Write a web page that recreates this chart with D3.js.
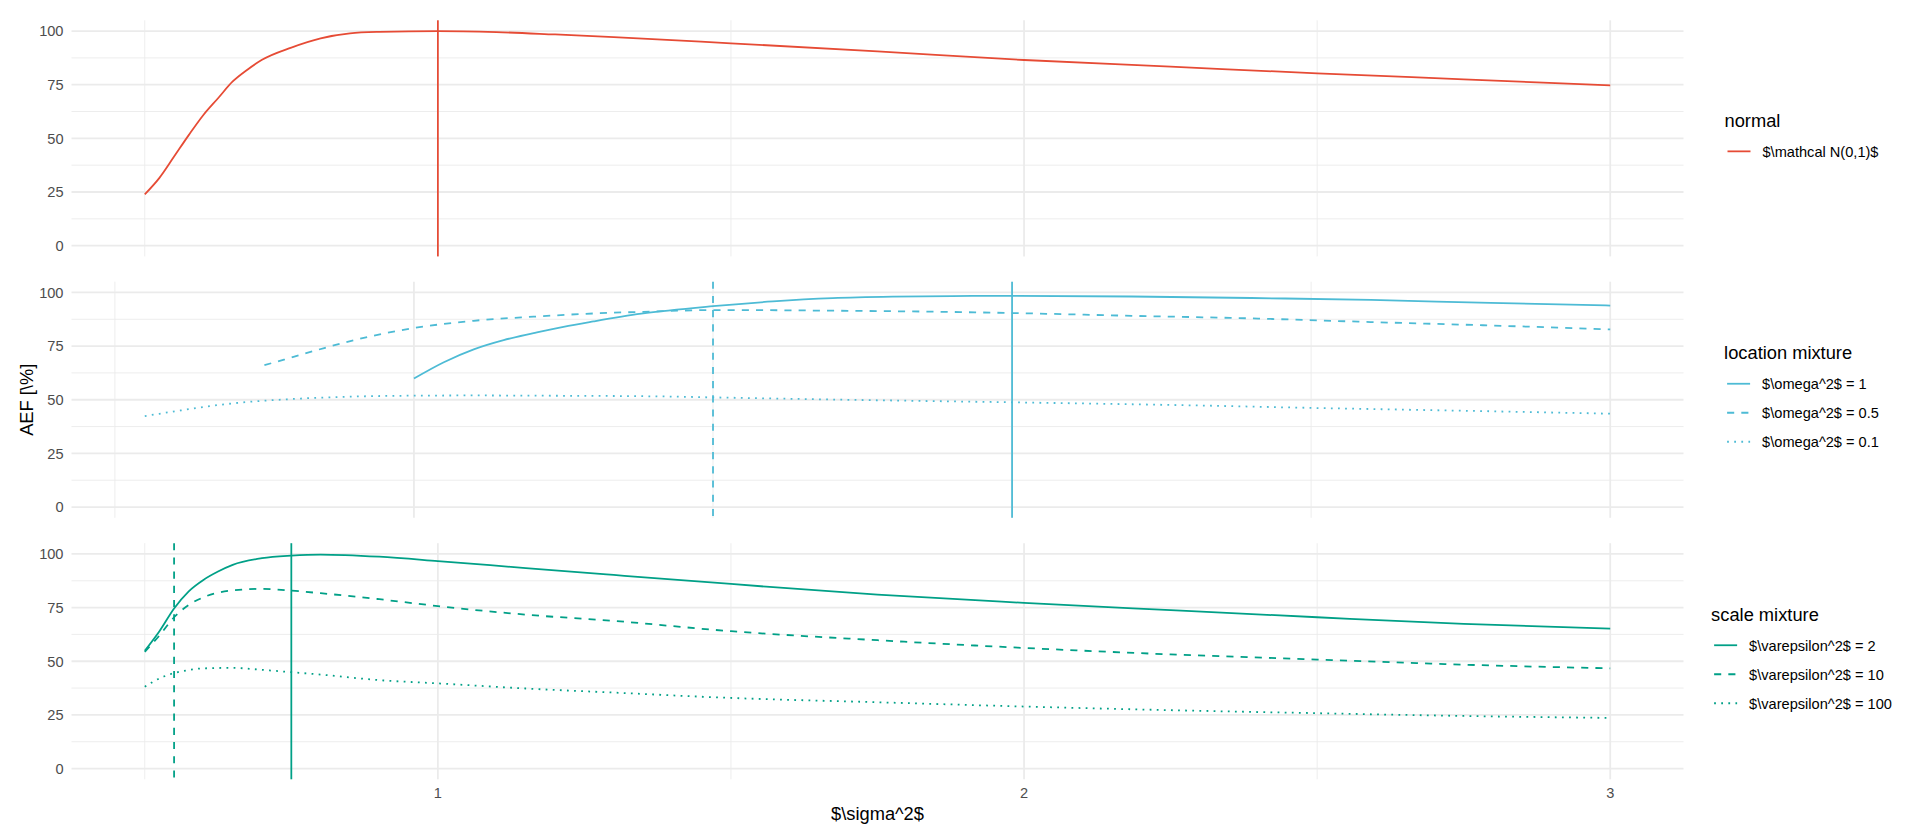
<!DOCTYPE html>
<html>
<head>
<meta charset="utf-8">
<script src="https://cdn.jsdelivr.net/npm/d3@7"></script>
<style>
  html, body { margin: 0; padding: 0; background: #ffffff; }
  svg { display: block; font-family: "Liberation Sans", Arial, Helvetica, sans-serif; }
</style>
</head>
<body>
<svg id="chart" width="1920" height="840"></svg>
<script>
// ---------------- data ----------------
const xMajorTicks = [1, 2, 3];
const xMinorTicks = [0.5, 1.5, 2.5];
const yMajorTicks = [0, 25, 50, 75, 100];
const yMinorTicks = [12.5, 37.5, 62.5, 87.5];

// panel 1: normal
const normalX = [0.5, 0.525, 0.55, 0.575, 0.6, 0.625, 0.65, 0.675, 0.7, 0.75, 0.8, 0.85, 0.9, 1.0, 1.1, 1.2, 1.3, 1.5, 1.75, 2.0, 2.25, 2.5, 2.75, 3.0];
const normalY = [23.9, 31.6, 41.5, 51.5, 60.9, 68.7, 76.5, 82.0, 86.6, 92.3, 96.6, 98.9, 99.6, 100, 99.5, 98.4, 97.2, 94.3, 90.5, 86.5, 83.4, 80.3, 77.5, 74.7];
const normalVline = [1.0];

// panel 2: location mixture
const locW1X = [1.0, 1.05, 1.1, 1.15, 1.2, 1.25, 1.3, 1.38, 1.5, 1.6, 1.7, 1.8, 1.9, 2.0, 2.2, 2.4, 2.6, 2.8, 3.0];
const locW1Y = [59.9, 67.5, 73.5, 77.8, 81.0, 84.0, 86.5, 90.1, 93.6, 95.8, 97.3, 98.0, 98.3, 98.4, 98.1, 97.4, 96.5, 95.1, 93.9];
const locW05X = [0.75, 0.8, 0.85, 0.9, 1.0, 1.1, 1.2, 1.3, 1.4, 1.5, 1.7, 1.9, 2.0, 2.2, 2.4, 2.6, 2.8, 3.0];
const locW05Y = [66.1, 70.1, 74.1, 77.8, 83.4, 86.8, 88.7, 90.2, 91.1, 91.8, 91.5, 90.9, 90.4, 89.1, 87.9, 86.2, 84.6, 82.8];
const locW01X = [0.55, 0.6, 0.65, 0.7, 0.8, 0.9, 1.0, 1.1, 1.2, 1.4, 1.5, 1.7, 2.0, 2.3, 2.5, 2.75, 3.0];
const locW01Y = [42.4, 44.6, 46.7, 48.4, 50.4, 51.5, 51.9, 52.0, 51.9, 51.6, 51.1, 50.1, 48.8, 47.4, 46.2, 44.9, 43.5];
const locVlines = [2.0, 1.5];

// panel 3: scale mixture
const scE2X = [0.5, 0.525, 0.55, 0.575, 0.6, 0.625, 0.65, 0.7, 0.75, 0.8, 0.9, 1.0, 1.15, 1.3, 1.5, 1.75, 2.0, 2.25, 2.5, 2.75, 3.0];
const scE2Y = [54.9, 64.0, 74.6, 82.6, 87.9, 91.8, 94.9, 98.0, 99.2, 99.7, 98.7, 96.7, 93.4, 90.2, 86.0, 81.0, 77.2, 73.8, 70.5, 67.4, 65.2];
const scE10X = [0.5, 0.525, 0.55, 0.575, 0.6, 0.65, 0.7, 0.75, 0.8, 0.9, 1.0, 1.15, 1.3, 1.5, 1.75, 2.0, 2.25, 2.5, 2.75, 3.0];
const scE10Y = [54.4, 62.0, 70.5, 76.2, 79.8, 83.0, 83.7, 82.9, 81.7, 78.9, 75.7, 71.7, 68.8, 64.0, 59.8, 56.2, 53.2, 50.8, 48.4, 46.7];
const scE100X = [0.5, 0.525, 0.55, 0.575, 0.6, 0.65, 0.7, 0.75, 0.8, 0.9, 1.0, 1.15, 1.3, 1.5, 1.75, 2.0, 2.25, 2.5, 2.75, 3.0];
const scE100Y = [38.1, 42.0, 44.5, 45.9, 46.7, 46.9, 46.0, 44.9, 43.8, 41.2, 39.7, 37.3, 35.4, 32.9, 30.9, 28.9, 27.2, 25.8, 24.5, 23.6];
const scVlines = [0.75, 0.55];

const legendTitles = ["normal", "location mixture", "scale mixture"];
const normalLabels = ["$\\mathcal N(0,1)$"];
const locLabels = ["$\\omega^2$ = 1", "$\\omega^2$ = 0.5", "$\\omega^2$ = 0.1"];
const scLabels = ["$\\varepsilon^2$ = 2", "$\\varepsilon^2$ = 10", "$\\varepsilon^2$ = 100"];
const yTitle = "AEF [\\%]";
const xTitle = "$\\sigma^2$";

// ---------------- styling / layout ----------------
const colors = { red: "#E64B35", blue: "#4DBBD5", green: "#00A087" };
const dashes = { solid: null, dashed: "7.1,7.1", dotted: "1.78,5.33" };
const LW = 1.78;
const gridCol = "#EBEBEB";
const L = 71.5, R = 1683.5;
const panelTop = [20.3, 281.7, 543.2];
const panelH = 236.1;

const panels = [
  { xs: [normalX], ys: [normalY], types: ["solid"], vlines: normalVline, vtypes: ["solid"],
    color: colors.red, title: legendTitles[0], labels: normalLabels, xmin: 0.5, xmax: 3 },
  { xs: [locW1X, locW05X, locW01X], ys: [locW1Y, locW05Y, locW01Y], types: ["solid", "dashed", "dotted"],
    vlines: locVlines, vtypes: ["solid", "dashed"], color: colors.blue, title: legendTitles[1], labels: locLabels, xmin: 0.55, xmax: 3 },
  { xs: [scE2X, scE10X, scE100X], ys: [scE2Y, scE10Y, scE100Y], types: ["solid", "dashed", "dotted"],
    vlines: scVlines, vtypes: ["solid", "dashed"], color: colors.green, title: legendTitles[2], labels: scLabels, xmin: 0.5, xmax: 3 }
];

const svg = d3.select("#chart");
const fontTick = 14.6, fontTitle = 18.3;

panels.forEach((p, i) => {
  const top = panelTop[i], bottom = top + panelH;
  const span = p.xmax - p.xmin;
  const x = d3.scaleLinear().domain([p.xmin - 0.05 * span, p.xmax + 0.05 * span]).range([L, R]);
  const y = d3.scaleLinear().domain([-5, 105]).range([bottom, top]);
  const g = svg.append("g");

  // minor grid
  g.selectAll(".ymin").data(yMinorTicks).enter().append("line")
    .attr("x1", L).attr("x2", R).attr("y1", d => y(d)).attr("y2", d => y(d))
    .attr("stroke", gridCol).attr("stroke-width", LW / 2);
  g.selectAll(".xmin").data(xMinorTicks.filter(v => v >= x.domain()[0])).enter().append("line")
    .attr("x1", d => x(d)).attr("x2", d => x(d)).attr("y1", top).attr("y2", bottom)
    .attr("stroke", gridCol).attr("stroke-width", LW / 2);
  // major grid
  g.selectAll(".ymaj").data(yMajorTicks).enter().append("line")
    .attr("x1", L).attr("x2", R).attr("y1", d => y(d)).attr("y2", d => y(d))
    .attr("stroke", gridCol).attr("stroke-width", LW);
  g.selectAll(".xmaj").data(xMajorTicks).enter().append("line")
    .attr("x1", d => x(d)).attr("x2", d => x(d)).attr("y1", top).attr("y2", bottom)
    .attr("stroke", gridCol).attr("stroke-width", LW);

  // y tick labels
  g.selectAll(".ylab").data(yMajorTicks).enter().append("text")
    .attr("x", L - 8).attr("y", d => y(d)).attr("dy", "0.36em")
    .attr("text-anchor", "end").attr("font-size", fontTick).attr("fill", "#4D4D4D")
    .text(d => d);

  // curves
  const line = d3.line().x(d => x(d[0])).y(d => y(d[1])).curve(d3.curveMonotoneX);
  p.xs.forEach((xs, k) => {
    const pts = xs.map((v, j) => [v, p.ys[k][j]]);
    g.append("path").attr("d", line(pts)).attr("fill", "none")
      .attr("stroke", p.color).attr("stroke-width", LW)
      .attr("stroke-dasharray", dashes[p.types[k]]);
  });

  // vertical reference lines
  p.vlines.forEach((v, k) => {
    g.append("line").attr("x1", x(v)).attr("x2", x(v)).attr("y1", top).attr("y2", bottom)
      .attr("stroke", p.color).attr("stroke-width", LW)
      .attr("stroke-dasharray", dashes[p.vtypes[k]]);
  });

  // x axis labels on bottom panel
  if (i === panels.length - 1) {
    g.selectAll(".xlab").data(xMajorTicks).enter().append("text")
      .attr("x", d => x(d)).attr("y", 793).attr("dy", "0.36em")
      .attr("text-anchor", "middle").attr("font-size", fontTick).attr("fill", "#4D4D4D")
      .text(d => d);
  }

  // legend
  const center = top + panelH / 2;
  const n = p.labels.length;
  const titleY = center - 18 - (n - 1) * 14.5;
  const lg = svg.append("g");
  const tt = lg.append("text").attr("x", 0).attr("y", titleY).attr("dy", "0.36em")
    .attr("font-size", fontTitle).attr("fill", "#000").text(p.title);
  let maxW = tt.node().getComputedTextLength();
  p.labels.forEach((lab, k) => {
    const cy = titleY + 31 + k * 29;
    lg.append("line").attr("x1", 3).attr("x2", 26).attr("y1", cy).attr("y2", cy)
      .attr("stroke", p.color).attr("stroke-width", LW)
      .attr("stroke-dasharray", dashes[p.types[k]]);
    const t = lg.append("text").attr("x", 38).attr("y", cy).attr("dy", "0.36em")
      .attr("font-size", fontTick).attr("fill", "#000").text(lab);
    maxW = Math.max(maxW, 38 + t.node().getComputedTextLength());
  });
  lg.attr("transform", `translate(${1801.5 - maxW / 2},0)`);
});

// axis titles
svg.append("text").attr("x", (L + R) / 2).attr("y", 813).attr("dy", "0.36em")
  .attr("text-anchor", "middle").attr("font-size", fontTitle).attr("fill", "#000").text(xTitle);
svg.append("text").attr("transform", `translate(26.5,${(panelTop[0] + panelTop[2] + panelH) / 2}) rotate(-90)`)
  .attr("dy", "0.36em").attr("text-anchor", "middle").attr("font-size", fontTitle).attr("fill", "#000").text(yTitle);
</script>
</body>
</html>
